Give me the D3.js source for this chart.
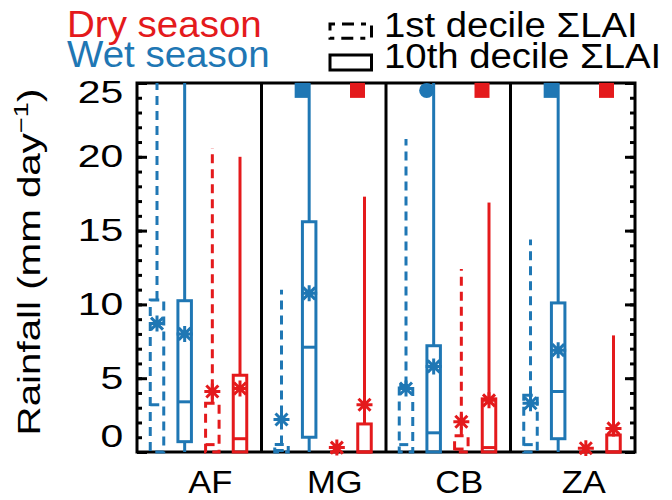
<!DOCTYPE html>
<html><head><meta charset="utf-8">
<script src="https://cdn.jsdelivr.net/npm/d3@7"></script>
<style>body{margin:0;background:#fff} text{font-family:"Liberation Sans",Arial,sans-serif}</style>
</head><body>
<svg id="c" width="672" height="500"></svg>
<script>
// ---- data ----
const categories = ["AF", "MG", "CB", "ZA"];
const yTickValues = [0, 5, 10, 15, 20, 25];
// box stats per category: [lowWhisker, q1, median, q3, highWhisker]  (30 = beyond axis top)
const wet1stBox  = [[0, 0, 3.2, 10.3, 30], [0, 0, 0.1, 0.5, 11.0], [0, 0, 0.5, 4.5, 21.2], [0, 0, 0.5, 3.85, 14.4]];
const wet1stMean = [8.7, 2.2, 4.3, 3.3];
const wet10Box   = [[0, 0.7, 3.4, 10.25, 30], [0, 1.0, 7.1, 15.6, 30], [0, 0, 1.3, 7.2, 30], [0, 0.9, 4.1, 10.1, 30]];
const wet10Mean  = [8.0, 10.75, 5.8, 6.9];
const dry1stBox  = [[0, 0, 0.5, 3.3, 20.6], [0, 0, 0, 0, 0], [0, 0, 0.2, 1.1, 12.4], [0, 0, 0, 0, 0]];
const dry1stMean = [4.1, 0.3, 2.05, 0.25];
const dry10Box   = [[0, 0, 0.9, 5.2, 20.0], [0, 0, 0, 1.9, 17.3], [0, 0, 0.3, 3.6, 16.9], [0, 0, 0, 1.15, 7.9]];
const dry10Mean  = [4.3, 3.2, 3.5, 1.6];
const wet10Flag  = [null, "square", "circle", "square"];
const dry10Flag  = [null, "square", "square", "square"];
const legendSeason = ["Dry season", "Wet season"];
const legendDecile = ["1st decile \u03A3LAI", "10th decile \u03A3LAI"];

// ---- layout ----
const RED = "#e41a1c", BLUE = "#1f77b4";
const M = {left: 137, right: 635, top: 83, bottom: 452};
const svg = d3.select("#c");
const x = d3.scaleBand().domain(categories).range([M.left, M.right]);
const sub = d3.scaleLinear().domain([0, 3]).range([20, 103]);
const y = d3.scaleLinear().domain([0, 25]).range([M.bottom, M.top]);

const series = [
  {box: wet1stBox, mean: wet1stMean, color: BLUE, dash: "9,6", flag: null},
  {box: wet10Box,  mean: wet10Mean,  color: BLUE, dash: null, flag: wet10Flag},
  {box: dry1stBox, mean: dry1stMean, color: RED,  dash: "9,6", flag: null},
  {box: dry10Box,  mean: dry10Mean,  color: RED,  dash: null, flag: dry10Flag}
];

svg.append("defs").append("clipPath").attr("id", "clip").append("rect")
  .attr("x", M.left - 5).attr("y", M.top).attr("width", M.right - M.left + 10).attr("height", M.bottom - M.top + 4);

// frame
svg.append("rect").attr("x", M.left).attr("y", M.top)
  .attr("width", M.right - M.left).attr("height", M.bottom - M.top)
  .attr("fill", "none").attr("stroke", "#000").attr("stroke-width", 3);
// group separators
svg.append("g").selectAll("line").data(categories.slice(1)).join("line")
  .attr("x1", d => x(d)).attr("x2", d => x(d)).attr("y1", M.top).attr("y2", M.bottom)
  .attr("stroke", "#000").attr("stroke-width", 3);

// axes ticks
const gMinL = svg.append("g").attr("transform", `translate(${M.left},0)`)
  .call(d3.axisLeft(y).ticks(25).tickSizeInner(-5).tickSizeOuter(0).tickFormat(""));
const gMinR = svg.append("g").attr("transform", `translate(${M.right},0)`)
  .call(d3.axisRight(y).ticks(25).tickSizeInner(-5).tickSizeOuter(0).tickFormat(""));
const gL = svg.append("g").attr("transform", `translate(${M.left},0)`)
  .call(d3.axisLeft(y).tickValues(yTickValues).tickSizeInner(-10).tickSizeOuter(0).tickPadding(10.5).tickFormat(d3.format("d")));
const gR = svg.append("g").attr("transform", `translate(${M.right},0)`)
  .call(d3.axisRight(y).tickValues(yTickValues).tickSizeInner(-10).tickSizeOuter(0).tickFormat(""));
[gMinL, gMinR, gL, gR].forEach(g => {
  g.select(".domain").remove();
  g.selectAll("line").attr("stroke", "#000").attr("stroke-width", 3);
});
gL.selectAll("text").attr("font-size", 31).attr("fill", "#000")
  .attr("font-family", '"Liberation Sans",Arial,sans-serif')
  .attr("transform", "scale(1.32,1)")
  .attr("y", d => d === 25 ? 10 : (d === 0 ? -15 : 0));

// x axis labels
const gX = svg.append("g").attr("transform", `translate(0,${M.bottom})`)
  .call(d3.axisBottom(x).tickSize(0).tickPadding(0));
gX.select(".domain").remove();
gX.selectAll("text").attr("font-size", 32).attr("fill", "#000")
  .attr("font-family", '"Liberation Sans",Arial,sans-serif')
  .attr("dy", 0).attr("y", 41).attr("transform", "scale(1.08,1)");
gX.selectAll(".tick").attr("transform", d => `translate(${x(d) + x.bandwidth() / 2 + 11},0)`);

// y label
const yl = svg.append("text").attr("transform", "translate(40,262) rotate(-90) scale(1.3,1)")
  .attr("text-anchor", "middle").attr("font-size", 31).attr("fill", "#000");
yl.append("tspan").text("Rainfall (mm day");
yl.append("tspan").attr("dy", -12).attr("font-size", 21).text("\u22121");
yl.append("tspan").attr("dy", 12).text(")");

// boxes
const BW = 13.5;
const plot = svg.append("g").attr("clip-path", "url(#clip)");
const flagLayer = svg.append("g");
const star = "M-8,0H8M0,-8V8M-6,-6L6,6M-6,6L6,-6";
series.forEach((s, k) => {
  categories.forEach((c, i) => {
    const [lo, q1, med, q3, hi] = s.box[i];
    const cx = x(c) + sub(k);
    const g = plot.append("g").attr("stroke", s.color).attr("stroke-width", 3).attr("fill", "none")
      .attr("stroke-dasharray", s.dash);
    g.append("line").attr("x1", cx).attr("x2", cx).attr("y1", y(q3)).attr("y2", y(hi));
    g.append("line").attr("x1", cx).attr("x2", cx).attr("y1", y(q1)).attr("y2", y(lo));
    g.append("rect").attr("x", cx - BW / 2).attr("y", y(q3)).attr("width", BW).attr("height", Math.max(0, y(q1) - y(q3)));
    g.append("line").attr("x1", cx - BW / 2).attr("x2", cx + BW / 2).attr("y1", y(med)).attr("y2", y(med));
    g.append("path").attr("d", star).attr("transform", `translate(${cx},${y(s.mean[i])})`)
      .attr("stroke-dasharray", "none").attr("stroke-width", 3);
    if (s.flag && s.flag[i]) {
      const my = y(24.5), mx = cx - 7;
      if (s.flag[i] === "circle") {
        flagLayer.append("circle").attr("cx", mx).attr("cy", my).attr("r", 7.5).attr("fill", s.color);
      } else {
        flagLayer.append("rect").attr("x", mx - 7.5).attr("y", my - 7.5).attr("width", 15).attr("height", 15).attr("fill", s.color);
      }
    }
  });
});

// legend
const lg = svg.append("g");
lg.selectAll("text.season").data(legendSeason).join("text").attr("class", "season")
  .attr("transform", (d, i) => `translate(67,${37 + i * 29.5}) scale(1.07,1)`)
  .attr("font-size", 36).attr("fill", (d, i) => i === 0 ? RED : BLUE).text(d => d);
lg.selectAll("text.dec").data(legendDecile).join("text").attr("class", "dec")
  .attr("transform", (d, i) => `translate(384,${37 + i * 31}) scale(1.065,1)`)
  .attr("font-size", 36).attr("fill", "#000").text(d => d);
lg.append("rect").attr("x", 330).attr("y", 24).attr("width", 41.5).attr("height", 14.3)
  .attr("fill", "none").attr("stroke", "#000").attr("stroke-width", 3).attr("stroke-dasharray", "5,7,12,7");
lg.append("rect").attr("x", 330).attr("y", 55).attr("width", 41.5).attr("height", 15)
  .attr("fill", "none").attr("stroke", "#000").attr("stroke-width", 3);
</script>
</body></html>
